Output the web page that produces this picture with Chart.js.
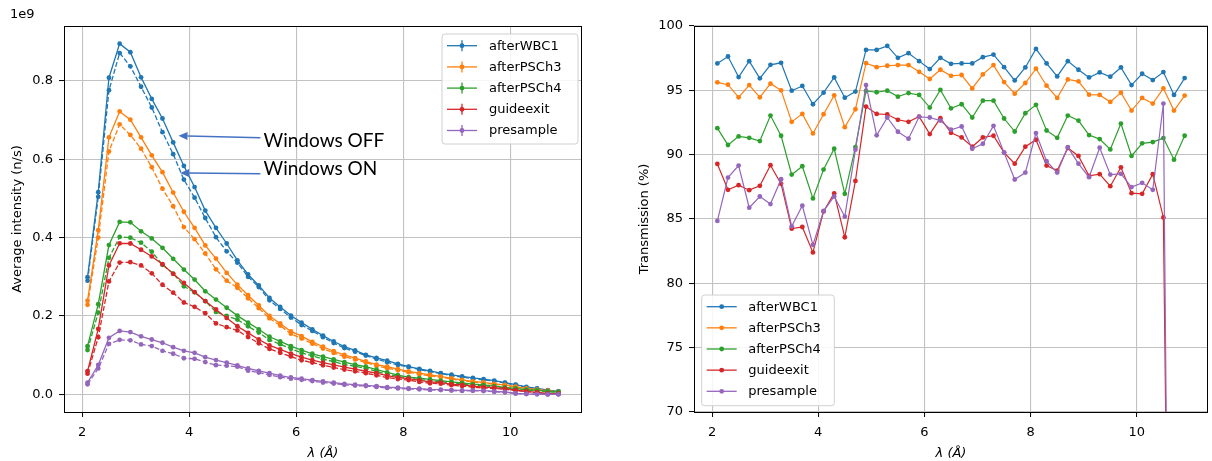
<!DOCTYPE html>
<html><head><meta charset="utf-8">
<script src="https://cdn.jsdelivr.net/npm/chart.js@4.4.0/dist/chart.umd.min.js"></script>
<style>
html,body{margin:0;padding:0;background:#fff;width:1212px;height:461px;overflow:hidden;}
canvas{position:absolute;top:0;}
#c1{left:0;}
#c2{left:620px;}
</style></head><body>
<canvas id="c1" width="600" height="461" style="width:600px;height:461px"></canvas>
<canvas id="c2" width="592" height="461" style="width:592px;height:461px"></canvas>
<script>
// ---------------- DATA ----------------
const lambda = [2.1,2.3,2.5,2.7,2.9,3.1,3.3,3.5,3.7,3.9,4.1,4.3,4.5,4.7,4.9,5.1,5.3,5.5,5.7,5.9,6.1,6.3,6.5,6.7,6.9,7.1,7.3,7.5,7.7,7.9,8.1,8.3,8.5,8.7,8.9,9.1,9.3,9.5,9.7,9.9,10.1,10.3,10.5,10.7,10.9];
const seriesNames = ['afterWBC1','afterPSCh3','afterPSCh4','guideexit','presample'];

// Average intensity, units of 1e9 n/s. "off" = Windows OFF (solid), "on" = Windows ON (dashed)
const offWBC1 = [0.299,0.516,0.808,0.895,0.873,0.809,0.754,0.704,0.643,0.583,0.529,0.469,0.425,0.385,0.342,0.306,0.278,0.246,0.223,0.201,0.183,0.166,0.150,0.135,0.122,0.112,0.101,0.093,0.086,0.078,0.071,0.065,0.060,0.054,0.050,0.046,0.042,0.039,0.035,0.030,0.025,0.019,0.015,0.011,0.0076];
const onWBC1 = [0.290,0.504,0.776,0.871,0.837,0.785,0.732,0.669,0.613,0.548,0.502,0.450,0.401,0.365,0.336,0.300,0.274,0.240,0.218,0.196,0.177,0.162,0.146,0.131,0.118,0.109,0.099,0.090,0.082,0.075,0.070,0.063,0.058,0.053,0.048,0.044,0.040,0.037,0.034,0.029,0.024,0.018,0.0145,0.0104,0.0073];
const offPSCh3 = [0.239,0.419,0.656,0.722,0.701,0.656,0.610,0.567,0.515,0.466,0.425,0.380,0.3465,0.310,0.280,0.253,0.227,0.200,0.181,0.1605,0.1486,0.134,0.1215,0.110,0.101,0.0926,0.084,0.076,0.0705,0.0645,0.0586,0.054,0.050,0.046,0.041,0.037,0.033,0.0306,0.027,0.024,0.0196,0.015,0.012,0.0094,0.006];
const onPSCh3 = [0.2285,0.400,0.620,0.689,0.662,0.627,0.5795,0.525,0.480,0.427,0.396,0.3595,0.319,0.290,0.272,0.245,0.220,0.194,0.1755,0.1548,0.1425,0.1294,0.1168,0.1058,0.0961,0.0891,0.0814,0.0727,0.0668,0.0616,0.0567,0.0515,0.0472,0.0441,0.0392,0.0350,0.0312,0.0288,0.0256,0.0224,0.0185,0.0141,0.0114,0.0088,0.0057];
const offPSCh4 = [0.123,0.230,0.381,0.440,0.439,0.416,0.398,0.374,0.346,0.3185,0.293,0.263,0.242,0.221,0.201,0.183,0.166,0.147,0.135,0.123,0.113,0.1036,0.096,0.089,0.082,0.076,0.0705,0.063,0.056,0.049,0.044,0.0416,0.038,0.035,0.032,0.029,0.026,0.024,0.021,0.018,0.015,0.012,0.010,0.0076,0.006];
const onPSCh4 = [0.1132,0.2087,0.3483,0.4018,0.3998,0.3870,0.3641,0.3308,0.3083,0.2758,0.2603,0.2379,0.2104,0.2002,0.1908,0.1736,0.1577,0.1389,0.1280,0.1164,0.1058,0.0985,0.0899,0.0836,0.0762,0.0716,0.0664,0.0585,0.0514,0.0457,0.0413,0.0382,0.0347,0.0326,0.0296,0.0265,0.0237,0.0217,0.0194,0.0162,0.0136,0.0109,0.0091,0.0068,0.0055];
const offGuide = [0.059,0.167,0.329,0.3855,0.385,0.369,0.352,0.332,0.3075,0.2845,0.261,0.238,0.2166,0.195,0.174,0.157,0.140,0.125,0.1146,0.104,0.095,0.0875,0.081,0.075,0.0697,0.0645,0.059,0.054,0.048,0.043,0.040,0.0357,0.032,0.030,0.026,0.024,0.021,0.0186,0.017,0.0145,0.011,0.0076,0.005,0.0025,0.002];
const onGuide = [0.0527,0.1457,0.2883,0.3363,0.3372,0.3291,0.3088,0.2797,0.2595,0.2344,0.2234,0.2070,0.1810,0.1715,0.1631,0.1463,0.1304,0.1159,0.1061,0.0967,0.0870,0.0812,0.0743,0.0685,0.0632,0.0589,0.0540,0.0487,0.0429,0.0390,0.0365,0.0318,0.0284,0.0272,0.0234,0.0212,0.0186,0.0163,0.0151,0.0126,0.0096,0.0067,0.0043,0.0004,0.001];
const offPresample = [0.030,0.075,0.1444,0.162,0.159,0.148,0.140,0.1317,0.1205,0.111,0.106,0.095,0.0875,0.081,0.074,0.066,0.060,0.054,0.048,0.043,0.040,0.0365,0.033,0.030,0.027,0.0247,0.023,0.021,0.0186,0.017,0.0153,0.0145,0.0127,0.012,0.011,0.010,0.010,0.0094,0.0076,0.006,0.0025,0.001,0.0005,0.0003,0.0002];
const onPresample = [0.0255,0.0662,0.1287,0.1391,0.1379,0.1275,0.1233,0.1112,0.1037,0.0921,0.0908,0.0824,0.0745,0.0732,0.0706,0.0604,0.0557,0.0496,0.0438,0.0400,0.0372,0.0338,0.0303,0.0277,0.0244,0.0224,0.0212,0.0189,0.0164,0.0151,0.0140,0.0130,0.0113,0.0109,0.0098,0.0088,0.0091,0.0083,0.0067,0.0052,0.0022,0.0009,0.0005,0.0000,0.0001];

// Transmission (%)
const tWBC1 = [97.09,97.63,96.03,97.27,95.93,96.98,97.14,94.97,95.34,93.92,94.82,96.0,94.43,94.9,98.14,98.14,98.45,97.53,97.89,97.27,96.65,97.53,97.06,97.09,97.09,97.58,97.78,96.8,95.77,96.78,98.22,97.09,96.08,97.27,96.6,96.0,96.39,96.06,96.78,95.41,96.29,95.8,96.42,94.64,95.95];
const tPSCh3 = [95.62,95.44,94.46,95.41,94.46,95.52,95.0,92.55,93.17,91.65,93.14,94.61,92.14,93.53,97.11,96.8,96.91,96.96,96.96,96.44,95.88,96.6,96.13,96.19,95.15,96.24,96.96,95.64,94.74,95.57,96.68,95.36,94.41,95.85,95.7,94.66,94.64,94.1,94.82,93.43,94.41,93.97,95.15,93.43,94.59];
const tPSCh4 = [92.06,90.75,91.42,91.31,91.06,93.04,91.47,88.45,89.1,86.6,88.84,90.46,86.96,90.59,94.95,94.85,94.97,94.51,94.79,94.64,93.66,95.03,93.6,93.92,92.89,94.2,94.2,92.81,91.8,93.22,93.87,91.88,91.31,93.04,92.65,91.52,91.21,90.41,92.42,89.9,90.88,90.98,91.29,89.61,91.47];
const tGuide = [89.28,87.27,87.63,87.24,87.58,89.18,87.73,84.25,84.38,82.4,85.59,86.99,83.58,87.96,93.74,93.17,93.12,92.71,92.55,92.96,91.6,92.84,91.7,91.34,90.62,91.34,91.47,90.16,89.3,90.62,91.16,89.15,88.76,90.52,89.9,88.35,88.48,87.55,89.02,87.01,86.96,88.48,85.12,15,50];
const tPresample = [84.85,88.22,89.15,85.88,86.75,86.16,88.09,84.43,86.03,82.99,85.62,86.75,85.18,90.39,95.41,91.5,92.89,91.78,91.24,92.94,92.89,92.65,91.94,92.19,90.46,90.85,92.24,90.16,88.07,88.61,91.68,89.49,88.61,90.59,89.3,88.25,90.54,88.45,88.51,87.48,87.81,87.27,93.97,2,40];

// Tick labels
const xTickValues = [2,4,6,8,10];
const yTickIntensity = [0.0,0.2,0.4,0.6,0.8];
const yTickTransmission = [70,75,80,85,90,95,100];

// Annotations (data coordinates)
const annotationTexts = ['Windows OFF','Windows ON'];
const annotationTips = [[3.80,0.660],[3.83,0.565]];
const annotationTails = [[5.33,0.655],[5.33,0.563]];
const annotationTextPos = [[5.39,0.648],[5.39,0.576]];

// ---------------- STYLE ----------------
const COLORS = ['#1f77b4','#ff7f0e','#2ca02c','#d62728','#9467bd'];
const FONT = 'DejaVu Sans';
const GRID = '#c2c2c2';

const pts = arr => lambda.map((x,i)=>({x:x, y:arr[i]}));

function xScale(){
  return {
    type:'linear', min:1.66, max:11.34,
    afterBuildTicks: a => { a.ticks = xTickValues.map(v=>({value:v})); },
    afterFit: s => { s.height = 49; },
    grid:{color:GRID, lineWidth:1.1, tickLength:5, tickColor:'#000', tickWidth:1, drawTicks:true},
    border:{display:false},
    ticks:{font:{family:FONT,size:13}, color:'#000', padding:8, maxRotation:0, autoSkip:false, callback:v=>String(v)},
    title:{display:true, text:'λ (Å)', font:{family:FONT,size:13,style:'italic'}, color:'#000', padding:{top:0,bottom:0}}
  };
}

const frame = {
  id:'frame',
  afterDatasetsDraw(chart){
    const a = chart.chartArea, ctx = chart.ctx;
    ctx.save();
    ctx.strokeStyle = '#000'; ctx.lineWidth = 1;
    ctx.strokeRect(Math.round(a.left)+0.5, Math.round(a.top)+0.5, Math.round(a.right-a.left)-1, Math.round(a.bottom-a.top));
    ctx.restore();
  }
};

function drawLegend(ctx, L, errbar){
  ctx.save();
  const r = 3, x=L.x, y=L.y, w=L.w, h=L.h;
  ctx.beginPath();
  ctx.moveTo(x+r,y); ctx.lineTo(x+w-r,y); ctx.arcTo(x+w,y,x+w,y+r,r);
  ctx.lineTo(x+w,y+h-r); ctx.arcTo(x+w,y+h,x+w-r,y+h,r);
  ctx.lineTo(x+r,y+h); ctx.arcTo(x,y+h,x,y+h-r,r);
  ctx.lineTo(x,y+r); ctx.arcTo(x,y,x+r,y,r); ctx.closePath();
  ctx.fillStyle='rgba(255,255,255,0.85)'; ctx.fill();
  ctx.strokeStyle='#d0d0d0'; ctx.lineWidth=1; ctx.stroke();
  seriesNames.forEach((name,i)=>{
    const yy = L.y0 + i*L.dy, mid=(L.lx0+L.lx1)/2;
    ctx.strokeStyle=COLORS[i]; ctx.lineWidth=1.3;
    ctx.beginPath(); ctx.moveTo(L.lx0,yy); ctx.lineTo(L.lx1,yy); ctx.stroke();
    if(errbar){ ctx.beginPath(); ctx.moveTo(mid,yy-5.5); ctx.lineTo(mid,yy+5.5); ctx.stroke(); }
    ctx.fillStyle=COLORS[i]; ctx.beginPath(); ctx.arc(mid,yy,2.4,0,Math.PI*2); ctx.fill();
    ctx.fillStyle='#000'; ctx.font='13px "'+FONT+'"'; ctx.textBaseline='middle'; ctx.textAlign='left';
    ctx.fillText(name, L.tx, yy+0.5);
  });
  ctx.restore();
}

const leftExtras = {
  id:'leftExtras',
  afterDraw(chart){
    const ctx = chart.ctx, xs = chart.scales.x, ys = chart.scales.y;
    ctx.save();
    ctx.fillStyle='#000'; ctx.font='13px "'+FONT+'"'; ctx.textBaseline='middle'; ctx.textAlign='left';
    ctx.fillText('1e9', 10, 15);
    annotationTexts.forEach((t,i)=>{
      const tx = xs.getPixelForValue(annotationTips[i][0]), ty = ys.getPixelForValue(annotationTips[i][1]);
      const sx = xs.getPixelForValue(annotationTails[i][0]), sy = ys.getPixelForValue(annotationTails[i][1]);
      const ang = Math.atan2(ty-sy, tx-sx), hl = 9, hw = 4;
      const bx = tx - hl*Math.cos(ang), by = ty - hl*Math.sin(ang);
      ctx.strokeStyle='#4472c4'; ctx.fillStyle='#4472c4'; ctx.lineWidth=1.5;
      ctx.beginPath(); ctx.moveTo(sx,sy); ctx.lineTo(bx,by); ctx.stroke();
      ctx.beginPath(); ctx.moveTo(tx,ty);
      ctx.lineTo(bx + hw*Math.sin(ang), by - hw*Math.cos(ang));
      ctx.lineTo(bx - hw*Math.sin(ang), by + hw*Math.cos(ang));
      ctx.closePath(); ctx.fill();
      ctx.fillStyle='#000'; ctx.font='19px Lato'; ctx.textBaseline='middle'; ctx.textAlign='left';
      ctx.fillText(t, xs.getPixelForValue(annotationTextPos[i][0]), ys.getPixelForValue(annotationTextPos[i][1]));
    });
    ctx.restore();
    drawLegend(ctx, {x:442, y:34, w:136, h:110, y0:45.7, dy:21.2, lx0:447, lx1:477, tx:489}, true);
  }
};

const rightExtras = {
  id:'rightExtras',
  afterDraw(chart){
    const o = 620;
    drawLegend(chart.ctx, {x:701.7-o, y:295, w:132.6, h:110.7, y0:306.7, dy:21.15, lx0:706.7-o, lx1:736.7-o, tx:748.3-o}, false);
  }
};

// ---------------- LEFT CHART ----------------
const offSets = [offWBC1, offPSCh3, offPSCh4, offGuide, offPresample];
const onSets = [onWBC1, onPSCh3, onPSCh4, onGuide, onPresample];
const leftDatasets = [];
seriesNames.forEach((n,i)=>{
  [[offSets[i],[]],[onSets[i],[5,2.2]]].forEach(([arr,dash],k)=>{
    const idx = leftDatasets.length;
    leftDatasets.push({
      label: n + (k ? ' (Windows ON)' : ' (Windows OFF)'),
      data: pts(arr), borderColor: COLORS[i], backgroundColor: COLORS[i],
      borderWidth: 1.3, borderDash: dash, pointRadius: 2.4, pointBorderWidth: 0,
      pointBackgroundColor: COLORS[i], tension: 0, order: -idx
    });
  });
});

new Chart(document.getElementById('c1'), {
  type:'line',
  data:{datasets:leftDatasets},
  options:{
    responsive:false, devicePixelRatio:1, animation:false,
    layout:{padding:{left:0, right:18, top:26, bottom:0}},
    plugins:{legend:{display:false}, tooltip:{enabled:false}},
    scales:{
      x: xScale(),
      y:{
        type:'linear', min:-0.045, max:0.94,
        afterBuildTicks: a => { a.ticks = yTickIntensity.map(v=>({value:v})); },
        afterFit: s => { s.width = 64; },
        grid:{color:GRID, lineWidth:1.1, tickLength:5, tickColor:'#000', tickWidth:1, drawTicks:true},
        border:{display:false},
        ticks:{font:{family:FONT,size:13}, color:'#000', padding:6, autoSkip:false, callback:v=>v.toFixed(1)},
        title:{display:true, text:'Average intensity (n/s)', font:{family:FONT,size:13}, color:'#000', padding:{top:10,bottom:0}}
      }
    }
  },
  plugins:[frame, leftExtras]
});

// ---------------- RIGHT CHART ----------------
const tSets = [tWBC1, tPSCh3, tPSCh4, tGuide, tPresample];
const rightDatasets = seriesNames.map((n,i)=>({
  label:n, data:pts(tSets[i]), borderColor:COLORS[i], backgroundColor:COLORS[i],
  borderWidth:1.2, pointRadius:2.4, pointBorderWidth:0, pointBackgroundColor:COLORS[i],
  tension:0, order:-i
}));

new Chart(document.getElementById('c2'), {
  type:'line',
  data:{datasets:rightDatasets},
  options:{
    responsive:false, devicePixelRatio:1, animation:false,
    layout:{padding:{left:0, right:0, top:26, bottom:0}},
    plugins:{legend:{display:false}, tooltip:{enabled:false}},
    scales:{
      x: xScale(),
      y:{
        type:'linear', min:70, max:100,
        afterBuildTicks: a => { a.ticks = yTickTransmission.map(v=>({value:v})); },
        afterFit: s => { s.width = 74; },
        grid:{color:GRID, lineWidth:1.1, tickLength:5, tickColor:'#000', tickWidth:1, drawTicks:true},
        border:{display:false},
        ticks:{font:{family:FONT,size:13}, color:'#000', padding:6, autoSkip:false, callback:v=>String(v)},
        title:{display:true, text:'Transmission (%)', font:{family:FONT,size:13}, color:'#000', padding:{top:17,bottom:0}}
      }
    }
  },
  plugins:[frame, rightExtras]
});
</script>
</body></html>
